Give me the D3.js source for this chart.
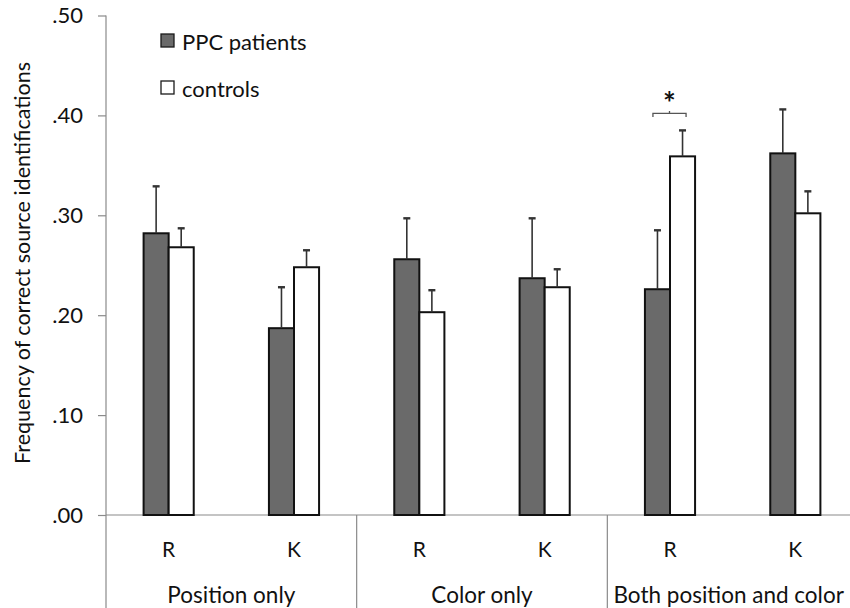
<!DOCTYPE html>
<html>
<head>
<meta charset="utf-8">
<script src="https://cdn.jsdelivr.net/npm/d3@7"></script>
<style>
  body { margin: 0; background: #fff; }
  svg { display: block; font-family: Lato, "Open Sans", sans-serif; }
</style>
</head>
<body>
<div id="chart"></div>
<script>
// data
const conditions = ["Position only", "Color only", "Both position and color"];
const responses = ["R", "K"];
const seriesNames = ["PPC patients", "controls"];
const ppcMeans = [0.282, 0.187, 0.256, 0.237, 0.226, 0.362];
const ppcErrors = [0.047, 0.041, 0.041, 0.060, 0.059, 0.044];
const controlMeans = [0.268, 0.248, 0.203, 0.228, 0.359, 0.302];
const controlErrors = [0.019, 0.017, 0.022, 0.018, 0.026, 0.022];
const yTicks = [0, 0.1, 0.2, 0.3, 0.4, 0.5];

function main() {
    const canvasWidth = 850;
    const canvasHeight = 608;
    const left = 106, right = 858, top = 15.5, bottom = 515;

    const svg = d3.select("#chart").append("svg")
        .attr("width", canvasWidth)
        .attr("height", canvasHeight);

    const cells = [];
    conditions.forEach((c, i) => responses.forEach((r, j) => cells.push({ cond: c, resp: r, key: c + ":" + r, idx: i * 2 + j })));

    const rows = [];
    cells.forEach(cell => {
        rows.push({ cell: cell.key, series: seriesNames[0], mean: ppcMeans[cell.idx], err: ppcErrors[cell.idx] });
        rows.push({ cell: cell.key, series: seriesNames[1], mean: controlMeans[cell.idx], err: controlErrors[cell.idx] });
    });

    const x0 = d3.scaleBand()
        .domain(cells.map(d => d.key))
        .range([left, right])
        .paddingInner(0.6)
        .paddingOuter(0.3);

    const x1 = d3.scaleBand()
        .domain(seriesNames)
        .range([0, x0.bandwidth()]);

    const xGroup = d3.scaleBand()
        .domain(conditions)
        .range([left, right]);

    const y = d3.scaleLinear()
        .domain([0, 0.5])
        .range([bottom, top]);

    const color = d3.scaleOrdinal().domain(seriesNames).range(["#6a6a6a", "#ffffff"]);

    // y axis
    const yAxis = svg.append("g")
        .attr("transform", "translate(" + left + ",0)")
        .call(d3.axisLeft(y).tickValues(yTicks).tickSize(8).tickPadding(15)
            .tickFormat(d => d3.format(".2f")(d).replace(/^0/, "")));
    yAxis.select(".domain").remove();
    yAxis.selectAll(".tick line").attr("stroke", "#8a8a8a").attr("stroke-width", 1.2);
    yAxis.selectAll(".tick text").attr("font-size", 22).attr("fill", "#111").attr("font-family", "Lato, sans-serif");

    svg.append("line")
        .attr("x1", left).attr("x2", left)
        .attr("y1", y(0.5)).attr("y2", canvasHeight)
        .attr("stroke", "#8a8a8a").attr("stroke-width", 1.2);

    // baseline
    svg.append("line")
        .attr("x1", left).attr("x2", canvasWidth)
        .attr("y1", y(0)).attr("y2", y(0))
        .attr("stroke", "#8a8a8a").attr("stroke-width", 1.2);

    // group separators
    svg.selectAll(".sep")
        .data(conditions.slice(1))
        .join("line")
        .attr("x1", d => xGroup(d)).attr("x2", d => xGroup(d))
        .attr("y1", y(0)).attr("y2", canvasHeight)
        .attr("stroke", "#8a8a8a").attr("stroke-width", 1.2);

    // R / K labels
    svg.selectAll(".resp")
        .data(cells)
        .join("text")
        .attr("x", d => x0(d.key) + x0.bandwidth() / 2)
        .attr("y", 557)
        .attr("text-anchor", "middle")
        .attr("font-size", 21)
        .attr("fill", "#111")
        .text(d => d.resp);

    // condition labels
    svg.selectAll(".cond")
        .data(conditions)
        .join("text")
        .attr("x", d => xGroup(d) + xGroup.bandwidth() / 2 - (d === conditions[2] ? 4 : 0))
        .attr("y", 603)
        .attr("text-anchor", "middle")
        .attr("font-size", 22.5)
        .attr("fill", "#111")
        .text(d => d);

    // bars
    const barG = svg.append("g");
    barG.selectAll("rect")
        .data(rows)
        .join("rect")
        .attr("x", d => x0(d.cell) + x1(d.series))
        .attr("y", d => y(d.mean))
        .attr("width", x1.bandwidth())
        .attr("height", d => y(0) - y(d.mean))
        .attr("fill", d => color(d.series))
        .attr("stroke", "#111")
        .attr("stroke-width", 2);

    // error bars (upper only)
    const capW = 7;
    const errG = svg.append("g").attr("stroke", "#333").attr("stroke-width", 1.6);
    errG.selectAll(".stem")
        .data(rows)
        .join("line")
        .attr("x1", d => x0(d.cell) + x1(d.series) + x1.bandwidth() / 2)
        .attr("x2", d => x0(d.cell) + x1(d.series) + x1.bandwidth() / 2)
        .attr("y1", d => y(d.mean))
        .attr("y2", d => y(d.mean + d.err));
    errG.selectAll(".cap")
        .data(rows)
        .join("line")
        .attr("x1", d => x0(d.cell) + x1(d.series) + x1.bandwidth() / 2 - capW / 2)
        .attr("x2", d => x0(d.cell) + x1(d.series) + x1.bandwidth() / 2 + capW / 2)
        .attr("y1", d => y(d.mean + d.err))
        .attr("y2", d => y(d.mean + d.err))
        .attr("stroke-width", 2.4);

    // significance bracket over Both / R
    const sigKey = conditions[2] + ":R";
    const bx1 = x0(sigKey) + x1(seriesNames[0]) + 8;
    const bx2 = x0(sigKey) + x1(seriesNames[1]) + x1.bandwidth() - 9;
    const by = y(0.402);
    svg.append("path")
        .attr("d", "M" + bx1 + "," + (by + 3.5) + "V" + by + "H" + bx2 + "V" + (by + 3.5)
            + "M" + ((bx1 + bx2) / 2) + "," + by + "v-2.5")
        .attr("fill", "none")
        .attr("stroke", "#555")
        .attr("stroke-width", 1.3);
    svg.append("text")
        .attr("x", (bx1 + bx2) / 2)
        .attr("y", by + 1)
        .attr("text-anchor", "middle")
        .attr("font-size", 30)
        .attr("font-weight", "bold")
        .attr("fill", "#111")
        .text("*");

    // y axis title
    svg.append("text")
        .attr("transform", "translate(30," + 263 + ") rotate(-90)")
        .attr("text-anchor", "middle")
        .attr("font-size", 21.5)
        .attr("fill", "#111")
        .text("Frequency of correct source identifications");

    // legend
    const legend = svg.append("g").attr("transform", "translate(161,34)");
    const item = legend.selectAll("g")
        .data(seriesNames)
        .join("g")
        .attr("transform", (d, i) => "translate(0," + i * 47 + ")");
    item.append("rect")
        .attr("width", 13).attr("height", 13)
        .attr("fill", d => color(d))
        .attr("stroke", "#1a1a1a")
        .attr("stroke-width", 1.3);
    item.append("text")
        .attr("x", 21)
        .attr("y", 16)
        .attr("font-size", 22)
        .attr("fill", "#111")
        .text(d => d);
}
main();
</script>
</body>
</html>
